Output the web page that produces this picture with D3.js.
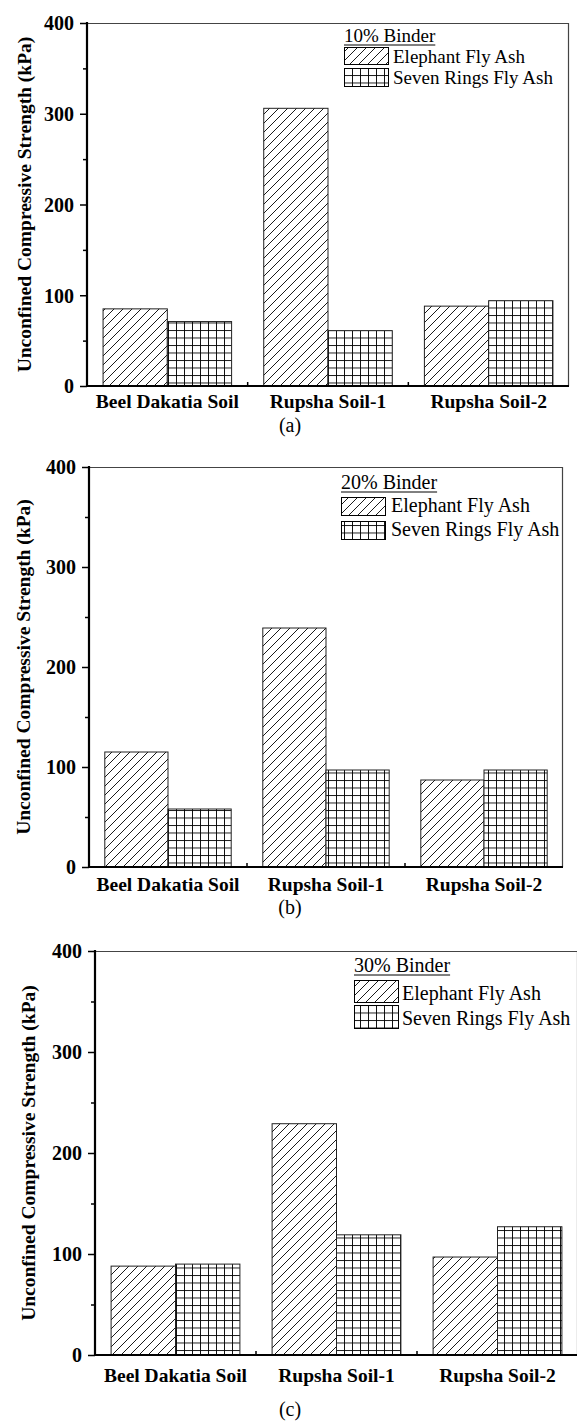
<!DOCTYPE html>
<html><head><meta charset="utf-8">
<script src="https://cdn.jsdelivr.net/npm/d3@7"></script>
<style>
html,body{margin:0;padding:0;background:#fff;}
svg{display:block;}
text{font-family:"Liberation Serif","Times New Roman",serif;fill:#000;}
</style></head>
<body>
<svg id="chart" width="577" height="1423"></svg>
<script>
const categories = ["Beel Dakatia Soil", "Rupsha Soil-1", "Rupsha Soil-2"];
const seriesNames = ["Elephant Fly Ash", "Seven Rings Fly Ash"];
const elephant10 = [85, 306, 88];
const sevenRings10 = [71, 61, 94];
const elephant20 = [115, 239, 87];
const sevenRings20 = [58, 97, 97];
const elephant30 = [88, 229, 97];
const sevenRings30 = [90, 119, 127];
const yTicks = [0, 100, 200, 300, 400];
const yMinorTicks = [50, 150, 250, 350];
const binderTitles = ["10% Binder", "20% Binder", "30% Binder"];
const panelLabels = ["(a)", "(b)", "(c)"];
const yTitle = "Unconfined Compressive Strength (kPa)";

const svg = d3.select("#chart");
const defs = svg.append("defs");
const hatch = defs.append("pattern").attr("id","hatch").attr("patternUnits","userSpaceOnUse")
  .attr("width",9).attr("height",9);
hatch.append("rect").attr("width",9).attr("height",9).attr("fill","#fff");
hatch.append("path").attr("d","M0,9 L9,0 M-3,3 L3,-3 M6,12 L12,6")
  .attr("stroke","#000").attr("stroke-width",0.9);
const grid = defs.append("pattern").attr("id","grid").attr("patternUnits","userSpaceOnUse")
  .attr("width",8).attr("height",7.5);
grid.append("rect").attr("width",8).attr("height",7.5).attr("fill","#fff");
grid.append("path").attr("d","M0.5,0 V7.5 M0,0.5 H8")
  .attr("stroke","#000").attr("stroke-width",0.9);

const panels = [
  {x0:87, x1:569, yTop:23, y0:386, data:[elephant10, sevenRings10], catBase:408, subBase:432, titleX:31,
   leg:{x:344, tb:42, fs:19, sw:[[47,64],[68,86]], tx:393, base:[63,84]}},
  {x0:89, x1:563, yTop:467, y0:867, data:[elephant20, sevenRings20], catBase:891, subBase:914, titleX:30,
   leg:{x:341, tb:489, fs:20, sw:[[497,515],[521,539]], tx:391, base:[512,536]}},
  {x0:95, x1:578, yTop:951, y0:1355, data:[elephant30, sevenRings30], catBase:1382, subBase:1416, titleX:35,
   leg:{x:354, tb:972, fs:20, sw:[[980,1002],[1005,1028]], tx:402, base:[1000,1025]}}
];
const fills = ["url(#hatch)","url(#grid)"];

panels.forEach((p, pi) => {
  const g = svg.append("g");
  const x = d3.scaleBand().domain(categories).range([p.x0, p.x1]).paddingInner(0.2).paddingOuter(0.1);
  const xOuter = d3.scaleBand().domain(categories).range([p.x0, p.x1]).padding(0);
  const xs = d3.scaleBand().domain([0,1]).range([0, x.bandwidth()]);
  const y = d3.scaleLinear().domain([0,400]).range([p.y0, p.yTop]);

  // frame top/right
  g.append("line").attr("x1",p.x0).attr("x2",p.x1).attr("y1",p.yTop+0.5).attr("y2",p.yTop+0.5)
    .attr("stroke","#444").attr("stroke-width",1.2);
  g.append("line").attr("x1",p.x1-0.5).attr("x2",p.x1-0.5).attr("y1",p.yTop).attr("y2",p.y0)
    .attr("stroke","#444").attr("stroke-width",1.2);

  // bars
  p.data.forEach((vals, si) => {
    g.selectAll(null).data(vals).enter().append("rect")
      .attr("x",(d,i)=>x(categories[i]) + xs(si))
      .attr("width",xs.bandwidth())
      .attr("y",d=>y(d))
      .attr("height",d=>y(0)-y(d))
      .attr("fill",fills[si]).attr("stroke","#222").attr("stroke-width",1);
  });

  // left axis
  const ax = g.append("g").attr("transform",`translate(${p.x0},0)`)
    .call(d3.axisLeft(y).tickValues(yTicks).tickSize(7).tickPadding(6).tickFormat(d3.format("d")));
  ax.select(".domain").remove();
  ax.selectAll(".tick line").attr("stroke","#000").attr("stroke-width",1.5);
  ax.selectAll(".tick text").attr("font-family","Liberation Serif").attr("font-weight","bold")
    .attr("font-size",20).attr("fill","#000").attr("dy","0.34em");
  const axm = g.append("g").attr("transform",`translate(${p.x0},0)`)
    .call(d3.axisLeft(y).tickValues(yMinorTicks).tickSize(4).tickFormat(""));
  axm.select(".domain").remove();
  axm.selectAll(".tick line").attr("stroke","#000").attr("stroke-width",1.5);
  g.append("line").attr("x1",p.x0).attr("x2",p.x0).attr("y1",p.yTop-1).attr("y2",p.y0+1)
    .attr("stroke","#000").attr("stroke-width",2.2);

  // bottom axis
  const boundaries = categories.slice(1).map(c => xOuter(c));
  g.selectAll(null).data(boundaries).enter().append("line")
    .attr("x1",d=>d).attr("x2",d=>d).attr("y1",p.y0).attr("y2",p.y0-4)
    .attr("stroke","#000").attr("stroke-width",1.5);
  g.append("line").attr("x1",p.x0-1).attr("x2",p.x1).attr("y1",p.y0).attr("y2",p.y0)
    .attr("stroke","#000").attr("stroke-width",2.2);
  g.selectAll(null).data(categories).enter().append("text")
    .attr("x",d=>x(d)+x.bandwidth()/2).attr("y",p.catBase)
    .attr("text-anchor","middle").attr("font-weight","bold").attr("font-size",19.5).text(d=>d);

  // y title
  g.append("text").attr("transform",`translate(${p.titleX},${(p.yTop+p.y0)/2}) rotate(-90)`)
    .attr("text-anchor","middle").attr("font-weight","bold").attr("font-size",19.5).text(yTitle);

  // panel sub-label
  g.append("text").attr("x",290).attr("y",p.subBase).attr("text-anchor","middle")
    .attr("font-size",20).text(panelLabels[pi]);

  // legend
  const L = p.leg;
  const t = g.append("text").attr("x",L.x).attr("y",L.tb).attr("font-size",L.fs).text(binderTitles[pi]);
  const tw = t.node().getComputedTextLength();
  g.append("line").attr("x1",L.x).attr("x2",L.x+tw).attr("y1",L.tb+3).attr("y2",L.tb+3)
    .attr("stroke","#000").attr("stroke-width",1);
  seriesNames.forEach((nm, si) => {
    g.append("rect").attr("x",L.x+0.5).attr("y",L.sw[si][0]+0.5).attr("width",44)
      .attr("height",L.sw[si][1]-L.sw[si][0]).attr("fill",fills[si]).attr("stroke","#000").attr("stroke-width",1);
    g.append("text").attr("x",L.tx).attr("y",L.base[si]).attr("font-size",L.fs).text(nm);
  });
});
</script>
</body></html>
